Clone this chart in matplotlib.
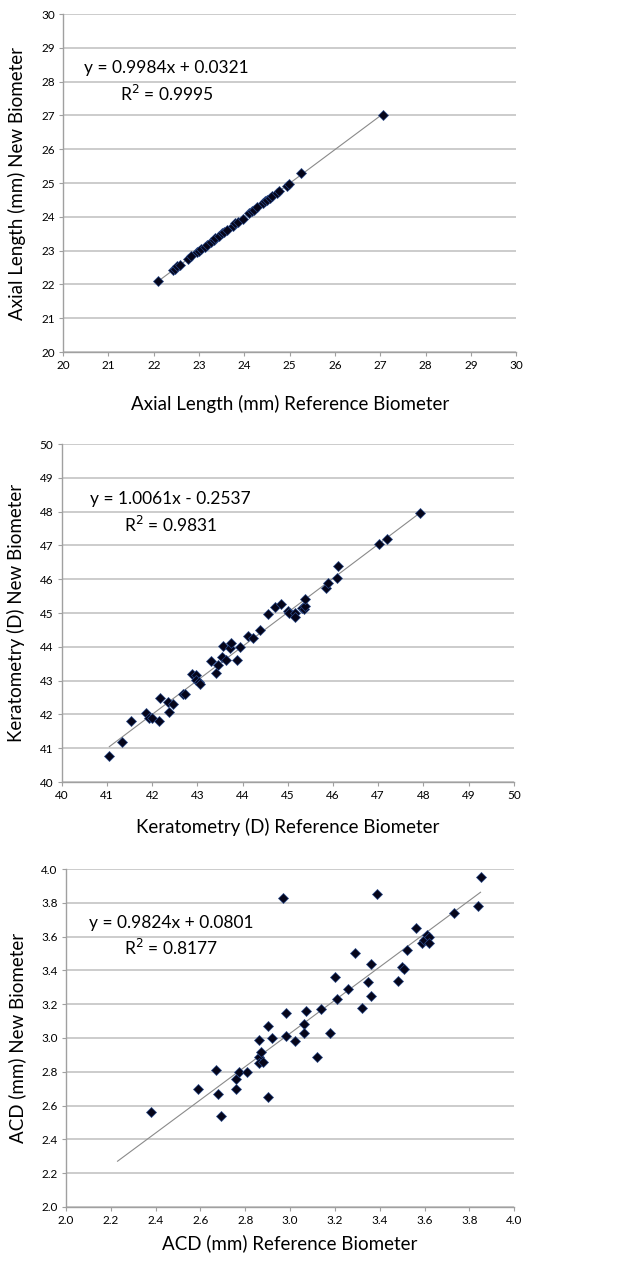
import matplotlib
matplotlib.use("Agg")
import matplotlib.pyplot as plt
import numpy as np

plt.rcParams['font.family'] = ['Lato', 'DejaVu Sans']

# Axial length (mm)
al_ref = [22.10, 22.42, 22.47, 22.52, 22.57, 22.75, 22.82, 22.96, 23.00, 23.05,
          23.12, 23.18, 23.27, 23.33, 23.36, 23.45, 23.50, 23.55, 23.62, 23.74,
          23.80, 23.86, 23.96, 24.10, 24.16, 24.22, 24.28, 24.40, 24.46, 24.51,
          24.57, 24.62, 24.72, 24.76, 24.94, 24.99, 25.25, 27.06]
al_new = [22.09, 22.42, 22.47, 22.55, 22.57, 22.76, 22.84, 22.97, 22.98, 23.05,
          23.12, 23.17, 23.27, 23.32, 23.37, 23.44, 23.52, 23.56, 23.61, 23.74,
          23.81, 23.86, 23.93, 24.10, 24.17, 24.21, 24.29, 24.40, 24.46, 24.49,
          24.56, 24.62, 24.71, 24.76, 24.91, 24.98, 25.31, 27.00]

# Keratometry (D)
k_ref = [41.05, 41.33, 41.54, 41.86, 41.93, 41.99, 42.14, 42.17, 42.35, 42.36,
         42.47, 42.67, 42.73, 42.87, 42.97, 42.96, 43.03, 43.06, 43.30, 43.40,
         43.46, 43.54, 43.57, 43.64, 43.72, 43.75, 43.88, 43.95, 44.12, 44.23,
         44.39, 44.56, 44.71, 44.85, 45.01, 45.03, 45.15, 45.15, 45.31, 45.35,
         45.37, 45.39, 45.84, 45.88, 46.08, 46.10, 47.02, 47.20, 47.92]
k_new = [40.78, 41.17, 41.81, 42.05, 41.89, 41.89, 41.80, 42.50, 42.36, 42.07,
         42.32, 42.61, 42.61, 43.20, 43.18, 43.03, 42.96, 42.90, 43.57, 43.22,
         43.45, 43.69, 44.02, 43.60, 43.97, 44.10, 43.62, 44.01, 44.31, 44.25,
         44.51, 44.96, 45.17, 45.26, 45.06, 45.00, 45.00, 44.89, 45.14, 45.11,
         45.21, 45.41, 45.75, 45.88, 46.03, 46.38, 47.03, 47.20, 47.96]

# Anterior chamber depth (mm)
acd_ref = [2.38, 2.59, 2.67, 2.68, 2.69, 2.76, 2.76, 2.77, 2.81, 2.86,
           2.86, 2.86, 2.87, 2.88, 2.90, 2.90, 2.92, 2.97, 2.98, 2.98,
           3.02, 3.06, 3.06, 3.07, 3.12, 3.14, 3.18, 3.20, 3.21, 3.26,
           3.29, 3.32, 3.35, 3.36, 3.36, 3.39, 3.48, 3.50, 3.51, 3.52,
           3.56, 3.59, 3.60, 3.61, 3.62, 3.62, 3.73, 3.84, 3.85]
acd_new = [2.56, 2.70, 2.81, 2.67, 2.54, 2.76, 2.70, 2.80, 2.80, 2.99,
           2.89, 2.85, 2.92, 2.86, 3.07, 2.65, 3.00, 3.83, 3.15, 3.01,
           2.98, 3.08, 3.03, 3.16, 2.89, 3.17, 3.03, 3.36, 3.23, 3.29,
           3.50, 3.18, 3.33, 3.44, 3.25, 3.85, 3.34, 3.42, 3.41, 3.52,
           3.65, 3.56, 3.58, 3.61, 3.60, 3.56, 3.74, 3.78, 3.95]

# trendline coefficients (slope, intercept, r2) and drawn range
fits = [(0.9984, 0.0321, 0.9995), (1.0061, -0.2537, 0.9831), (0.9824, 0.0801, 0.8177)]
trend_ranges = [(22.10, 27.06), (41.05, 47.92), (2.23, 3.85)]

panels = [
    dict(x=al_ref, y=al_new, lim=(20, 30), ticks=np.arange(20, 31, 1), fmt='{:.0f}',
         xlabel='Axial Length (mm) Reference Biometer',
         ylabel='Axial Length (mm) New Biometer',
         rect=[0.101, 0.7215, 0.725, 0.2674], txt=(0.228, 0.80), xpad=17),
    dict(x=k_ref, y=k_new, lim=(40, 50), ticks=np.arange(40, 51, 1), fmt='{:.0f}',
         xlabel='Keratometry (D) Reference Biometer',
         ylabel='Keratometry (D) New Biometer',
         rect=[0.099, 0.3813, 0.723, 0.2674], txt=(0.240, 0.796), xpad=12),
    dict(x=acd_ref, y=acd_new, lim=(2.0, 4.0), ticks=np.arange(2.0, 4.01, 0.2), fmt='{:.1f}',
         xlabel='ACD (mm) Reference Biometer',
         ylabel='ACD (mm) New Biometer',
         rect=[0.1056, 0.0451, 0.717, 0.2674], txt=(0.234, 0.80), xpad=6),
]

fig = plt.figure(figsize=(6.25, 12.64), dpi=100)

for p, (m, b, r2), (x0, x1) in zip(panels, fits, trend_ranges):
    ax = fig.add_axes(p['rect'])
    ax.set_xlim(p['lim'])
    ax.set_ylim(p['lim'])
    ax.set_xticks(p['ticks'])
    ax.set_yticks(p['ticks'])
    ax.set_xticklabels([p['fmt'].format(t) for t in p['ticks']])
    ax.set_yticklabels([p['fmt'].format(t) for t in p['ticks']])
    ax.yaxis.grid(True, color='#c4c4c4', lw=1.2)
    ax.set_axisbelow(True)
    for s in ['top', 'right']:
        ax.spines[s].set_visible(False)
    for s in ['left', 'bottom']:
        ax.spines[s].set_color('#a0a0a0')
        ax.spines[s].set_linewidth(1.0)
    ax.tick_params(length=3, color='#a0a0a0', labelsize=8.5, pad=3)

    tx = np.array([x0, x1])
    ax.plot(tx, m * tx + b, color='#8a8a8a', lw=0.8, zorder=2)
    ax.plot(p['x'], p['y'], ls='none', marker='D', ms=5.2,
            mfc='#05051a', mec='#2a4a8a', mew=0.5, zorder=3)

    sign = '+' if b >= 0 else '-'
    ax.text(p['txt'][0], p['txt'][1],
            'y = {:.4f}x {} {:.4f}\nR$^2$ = {:.4f}'.format(m, sign, abs(b), r2),
            transform=ax.transAxes, ha='center', va='center', fontsize=12.5,
            linespacing=1.45, multialignment='center')

    ax.set_xlabel(p['xlabel'], fontsize=13.5, labelpad=p['xpad'])
    ax.set_ylabel(p['ylabel'], fontsize=13.5, labelpad=11)

fig.savefig('out.png', dpi=100)
